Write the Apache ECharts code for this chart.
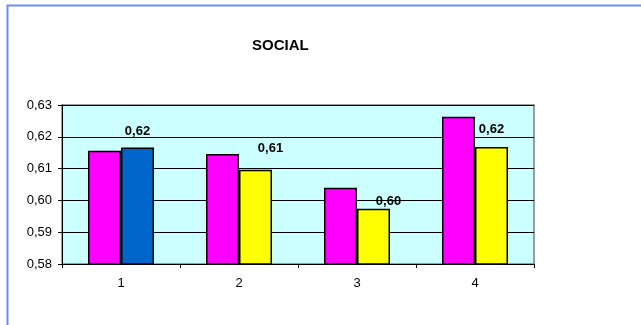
<!DOCTYPE html>
<html>
<head>
<meta charset="utf-8">
<script src="https://cdn.jsdelivr.net/npm/echarts@6/dist/echarts.min.js"></script>
<style>
  html, body { margin: 0; padding: 0; background: #fff; }
  #chart { width: 641px; height: 325px; }
</style>
</head>
<body>
<div id="chart"></div>
<script>
var categories = ['1', '2', '3', '4'];
var seriesA = [0.6156, 0.6146, 0.6040, 0.6263];
var seriesB = [0.6166, 0.6096, 0.5974, 0.6168];
var yTicks = [0.58, 0.59, 0.60, 0.61, 0.62, 0.63];

// excel puts its labels a bit around, nudge them by hand
var labelNudge = [[0, -9.5], [15, -15], [15, -1], [0, -11]];
var colorsB = ['#0066CC', '#FFFF00', '#FFFF00', '#FFFF00'];

function fmt(v) {
  return v.toFixed(2).replace('.', ',');
}

var chart = echarts.init(document.getElementById('chart'));

var option = {
  animation: false,
  textStyle: { fontFamily: 'Liberation Sans, Arial, sans-serif' },
  title: {
    text: 'SOCIAL',
    left: 247,
    top: 33,
    textStyle: { fontSize: 15, fontWeight: 'bold', color: '#000', fontFamily: 'Liberation Sans, Arial, sans-serif' }
  },
  graphic: [
    {
      type: 'rect',
      shape: { x: 7.5, y: 5.5, width: 700, height: 400 },
      style: { fill: 'none', stroke: '#6b8ef0', lineWidth: 2 },
      silent: true
    }
  ],
  grid: {
    left: 62,
    top: 105,
    width: 472,
    height: 159,
    show: true,
    backgroundColor: '#CCFFFF',
    borderColor: '#808080',
    borderWidth: 1.5
  },
  xAxis: {
    type: 'category',
    data: categories,
    axisLine: { lineStyle: { color: '#000', width: 1 } },
    axisTick: { show: true, alignWithLabel: false, length: 4, lineStyle: { color: '#000' } },
    axisLabel: { color: '#000', fontSize: 13, margin: 13 }
  },
  yAxis: {
    type: 'value',
    min: yTicks[0],
    max: yTicks[yTicks.length - 1],
    interval: 0.01,
    axisLine: { show: true, lineStyle: { color: '#000', width: 1 } },
    axisTick: { show: true, length: 4, lineStyle: { color: '#000' } },
    axisLabel: { color: '#000', fontSize: 13, margin: 10, formatter: function (v) { return fmt(v); } },
    splitLine: { show: true, lineStyle: { color: '#000', width: 1 } }
  },
  series: [
    {
      type: 'bar',
      data: seriesA,
      barWidth: 33,
      barGap: '0%',
      itemStyle: { color: '#FF00FF', borderColor: '#000', borderWidth: 1.5 }
    },
    {
      type: 'bar',
      barWidth: 33,
      barGap: '0%',
      data: seriesB.map(function (v, i) {
        return {
          value: v,
          itemStyle: { color: colorsB[i] },
          label: { offset: labelNudge[i] }
        };
      }),
      itemStyle: { borderColor: '#000', borderWidth: 1.5 },
      label: {
        show: true,
        position: 'top',
        distance: 0,
        color: '#000',
        fontSize: 13,
        fontWeight: 'bold',
        formatter: function (p) { return fmt(p.value); }
      }
    }
  ]
};

chart.setOption(option);
</script>
</body>
</html>
